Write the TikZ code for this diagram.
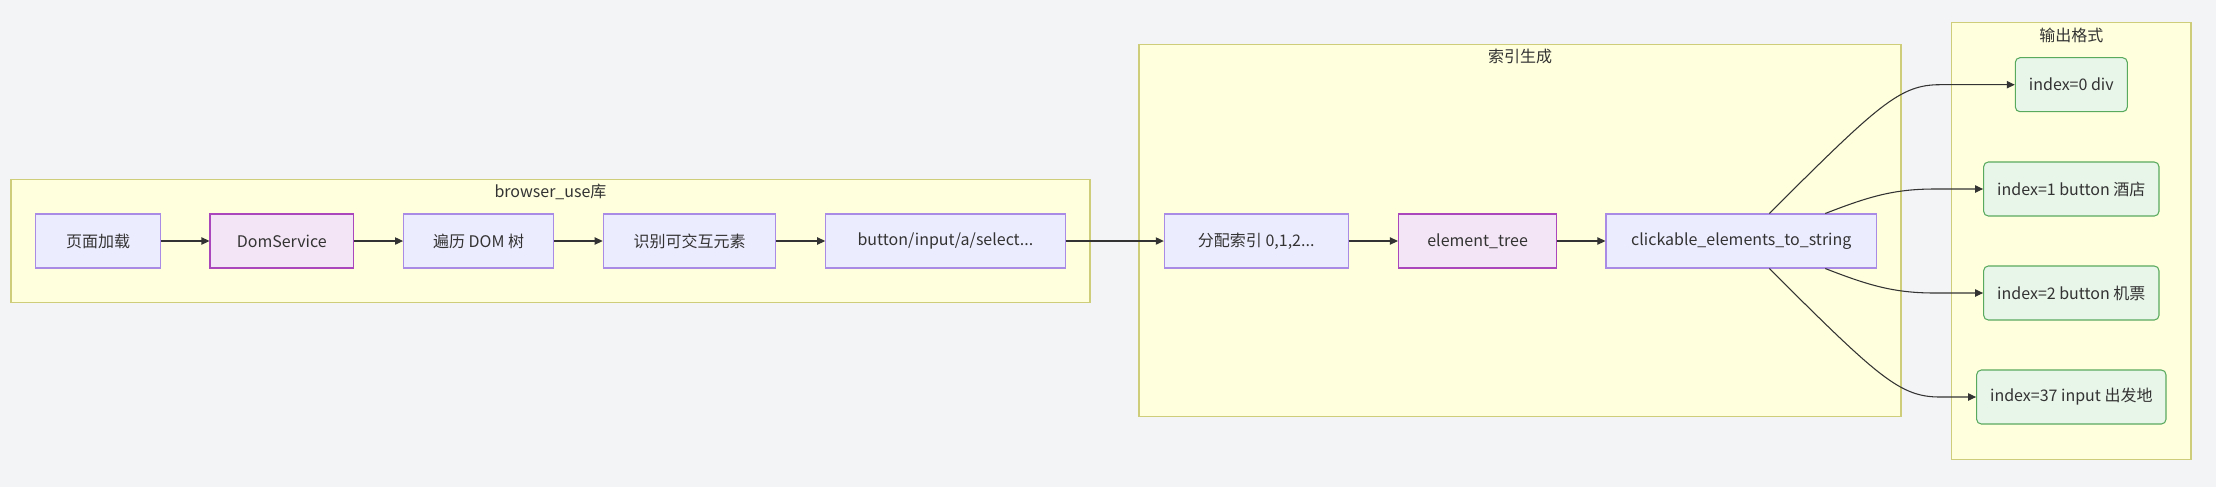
\documentclass[tikz,border=0pt]{standalone}
\usepackage{fontspec}
\setmainfont{Noto Sans CJK SC}
\usetikzlibrary{arrows.meta,calc}
\definecolor{bg}{HTML}{F3F4F6}
\definecolor{clfill}{HTML}{FFFFDE}
\definecolor{cldraw}{HTML}{CDCD7A}
\definecolor{nfill}{HTML}{ECECFF}
\definecolor{ndraw}{HTML}{A98BE6}
\definecolor{pfill}{HTML}{F3E5F5}
\definecolor{pdraw}{HTML}{AB47BC}
\definecolor{gfill}{HTML}{E8F5E9}
\definecolor{gdraw}{HTML}{5AAA5E}
\definecolor{txt}{HTML}{333333}
\tikzset{
  cluster/.style={draw=cldraw, fill=clfill, line width=0.9pt},
  ctitle/.style={text=txt, font=\fontsize{12}{14}\selectfont, inner sep=0pt},
  basebox/.style={line width=0.8pt, text=txt, font=\fontsize{12}{14}\selectfont, inner sep=0pt, minimum height=40.5pt},
  bluebox/.style={basebox, draw=ndraw, fill=nfill},
  purplebox/.style={basebox, draw=pdraw, fill=pfill},
  greenbox/.style={basebox, draw=gdraw, fill=gfill, rounded corners=3.5pt},
  edge/.style={draw=txt, line width=0.8pt, -{Triangle[length=6pt,width=5.5pt]}},
}
\begin{document}
\begin{tikzpicture}[x=0.75pt,y=-0.75pt]
\useasboundingbox (0,0) rectangle (2216,487);
\fill[bg] (0,0) rectangle (2216,487);
% clusters
\draw[cluster] (11,179.3) rectangle (1090,302.7);
\node[ctitle] (t1) at (550.5,192) {browser\_use库};
\draw[cluster] (1139,44.7) rectangle (1901,416.7);
\node[ctitle] (t2) at (1520,56.7) {索引生成};
\draw[cluster] (1951.7,22.7) rectangle (2191,459.3);
\node[ctitle] (t3) at (2071.3,35) {输出格式};
% nodes
\node[bluebox, minimum width=93.5pt] (a) at (98,241) {页面加载};
\node[purplebox, minimum width=107.7pt] (b) at (281.8,241) {DomService};
\node[bluebox, minimum width=112.5pt] (c) at (478.6,241) {遍历 DOM 树};
\node[bluebox, minimum width=129.4pt] (d) at (689.5,241) {识别可交互元素};
\node[bluebox, minimum width=179.5pt] (e) at (945.4,241) {button/input/a/select...};
\node[bluebox, minimum width=137.8pt] (f) at (1256.2,241) {分配索引 0,1,2...};
\node[purplebox, minimum width=118.7pt] (g) at (1477.6,241) {element\_tree};
\node[bluebox, minimum width=203pt] (h) at (1741.3,241) {clickable\_elements\_to\_string};
\node[greenbox, minimum width=84pt] (o0) at (2071.3,84.7) {index=0 div};
\node[greenbox, minimum width=131.5pt] (o1) at (2071.3,189) {index=1 button 酒店};
\node[greenbox, minimum width=131.5pt] (o2) at (2071.3,293) {index=2 button 机票};
\node[greenbox, minimum width=142pt] (o3) at (2071.3,397) {index=37 input 出发地};
% edges
\draw[edge] (a) -- (b);
\draw[edge] (b) -- (c);
\draw[edge] (c) -- (d);
\draw[edge] (d) -- (e);
\draw[edge] (e) -- (f);
\draw[edge] (f) -- (g);
\draw[edge] (g) -- (h);
\draw[edge] ($(h.north)+(28,0)$) .. controls (1879,104) and (1900,84.7) .. (1940,84.7) -- (o0.west);
\draw[edge] ($(h.north)+(84,0)$) .. controls (1870,196) and (1895,189) .. (1935,189) -- (o1.west);
\draw[edge] ($(h.south)+(84,0)$) .. controls (1870,286) and (1895,293) .. (1935,293) -- (o2.west);
\draw[edge] ($(h.south)+(28,0)$) .. controls (1879,378) and (1900,397) .. (1940,397) -- (o3.west);
\end{tikzpicture}
\end{document}
